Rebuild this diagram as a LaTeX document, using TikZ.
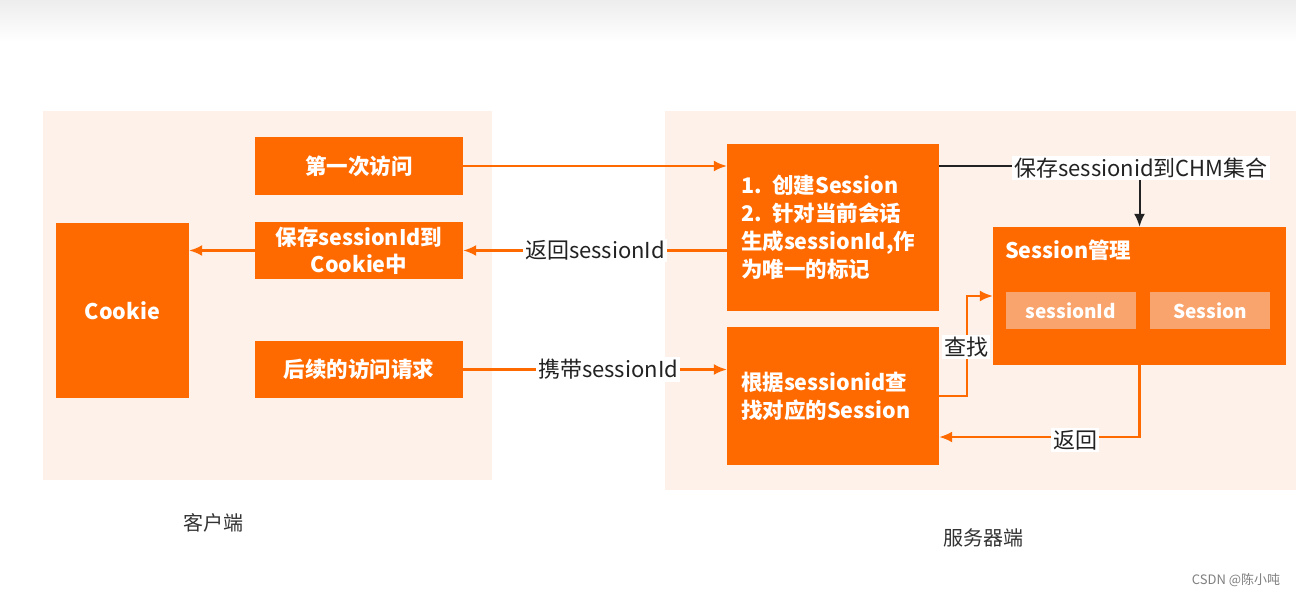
\documentclass[tikz,border=0pt]{standalone}
\usepackage{fontspec}
\setmainfont{Noto Sans CJK SC}
\usetikzlibrary{arrows.meta}
\definecolor{org}{HTML}{FF6A00}
\definecolor{subc}{HTML}{F9A46C}
\definecolor{panel}{HTML}{FDF1E9}
\definecolor{txt}{HTML}{222222}
\definecolor{grey}{HTML}{333333}
\begin{document}
\begin{tikzpicture}[x=1pt,y=-1pt,
  font=\fontsize{21.5}{28}\selectfont\bfseries,
  box/.style={fill=org, text=white, inner sep=0pt, align=center},
  leftbox/.style={box, align=left},
  subbox/.style={fill=subc, text=white, inner sep=0pt, font=\fontsize{19}{22}\selectfont\bfseries},
  oarrow/.style={draw=org, line width=2.1pt, -{Latex[length=13pt,width=11pt]}},
  karrow/.style={draw=txt, line width=2pt},
  lbl/.style={fill=white, text=txt, inner sep=2pt, font=\fontsize{22}{26}\selectfont}]
\useasboundingbox (0,0) rectangle (1296,596);
\fill[white] (0,0) rectangle (1296,596);
\shade[top color=black!7, bottom color=white] (0,0) rectangle (1296,42);
% panels
\fill[panel] (43,111) rectangle (492,480);
\fill[panel] (665,111) rectangle (1296,490);
% client boxes
\node[box, minimum width=208, minimum height=58] (first) at (359,166) {第一次访问};
\node[box, minimum width=208, minimum height=57] (save) at (359,250.5) {保存sessionId到\\[-1pt]Cookie中};
\node[box, minimum width=208, minimum height=57] (later) at (359,369.5) {后续的访问请求};
\node[box, minimum width=133, minimum height=175] (cookie) at (122.5,310.5) {Cookie};
% server boxes
\node[leftbox, minimum width=212, minimum height=167, text width=184] (create) at (833,227.5)
  {1. 创建Session\\2. 针对当前会话\\生成sessionId,作\\为唯一的标记};
\node[leftbox, minimum width=212, minimum height=138, text width=184] (lookup) at (833,396)
  {根据sessionid查\\找对应的Session};
\node[box, minimum width=293, minimum height=138] (mgr) at (1139.5,296) {};
\node[anchor=west, text=white, inner sep=0pt] (mgrtitle) at (1005,250) {Session管理};
\node[subbox, minimum width=130, minimum height=37] (sid) at (1071,310.5) {sessionId};
\node[subbox, minimum width=120, minimum height=37] (sess) at (1210,310.5) {Session};
% connectors
\draw[oarrow] (first.east) -- (create.west |- first.east);
\draw[oarrow] (create.west |- save.east) -- (save.east)
  node[midway, lbl] (retid) {返回sessionId};
\draw[oarrow] (save.west) -- (cookie.east |- save.west);
\draw[oarrow] (later.east) -- (lookup.west |- later.east)
  node[pos=0.55, lbl] (carry) {携带sessionId};
\node[lbl] (chm) at (1141,168) {保存sessionid到CHM集合};
\draw[karrow] (create.east |- first.east) -- (chm.west |- first.east);
\draw[karrow, -{Latex[length=13pt,width=11pt]}] (chm.south -| mgr.north) -- (mgr.north);
\draw[oarrow] (lookup.east) -- ++(28,0) |- (mgr.west);
\node[lbl] (find) at (966,347) {查找};
\draw[oarrow] (mgr.south) |- (lookup.east |- 0,437);
\node[lbl] (back) at (1075,440) {返回};
% captions
\node[text=grey, font=\fontsize{20}{24}\selectfont] (client) at (213,523) {客户端};
\node[text=grey, font=\fontsize{20}{24}\selectfont] (server) at (983,538) {服务器端};
\node[text=black!50, font=\fontsize{13}{15}\selectfont] (wm) at (1236,580) {CSDN @陈小吨};
\end{tikzpicture}
\end{document}
